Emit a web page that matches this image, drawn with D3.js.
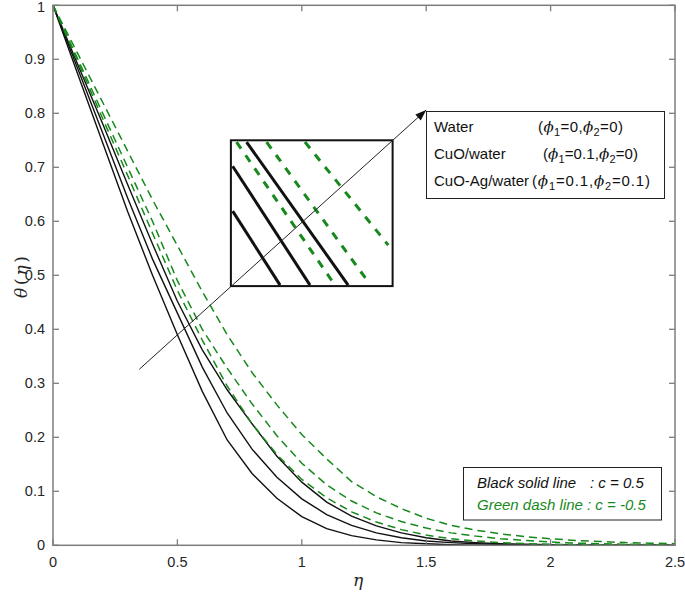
<!DOCTYPE html>
<html><head><meta charset="utf-8">
<script src="https://cdn.jsdelivr.net/npm/d3@7"></script>
<style>body{margin:0;background:#fff} svg{display:block}</style>
</head><body>
<svg id="c" width="685" height="595"></svg>
<script>
// ---------- data ----------
const eta = [0,0.1,0.2,0.3,0.4,0.5,0.6,0.7,0.8,0.9,1.0,1.1,1.2,1.3,1.4,1.5,1.6,1.7,1.8,1.9,2.0,2.1,2.2,2.3,2.4,2.5];
// c = 0.5 (black solid)
const waterPos  = [1,0.872,0.745,0.618,0.500,0.390,0.285,0.195,0.133,0.087,0.053,0.031,0.018,0.010,0.005,0.003,0.001,0,0,0,0,0,0,0,0,0];
const cuoPos    = [1,0.882,0.763,0.643,0.530,0.430,0.330,0.245,0.178,0.126,0.086,0.057,0.037,0.023,0.014,0.008,0.005,0.003,0.002,0.001,0,0,0,0,0,0];
const cuoAgPos  = [1,0.890,0.780,0.668,0.558,0.452,0.362,0.288,0.225,0.165,0.117,0.080,0.054,0.036,0.023,0.014,0.008,0.005,0.003,0.002,0.001,0,0,0,0,0];
// c = -0.5 (green dashed)
const waterNeg  = [1,0.895,0.790,0.685,0.578,0.472,0.380,0.295,0.225,0.168,0.122,0.088,0.062,0.043,0.029,0.019,0.012,0.008,0.005,0.003,0.002,0.001,0.001,0,0,0];
const cuoNeg    = [1,0.900,0.800,0.700,0.600,0.490,0.400,0.328,0.262,0.203,0.152,0.112,0.082,0.060,0.044,0.032,0.023,0.017,0.012,0.009,0.006,0.004,0.003,0.002,0.001,0.001];
const cuoAgNeg  = [1,0.910,0.820,0.730,0.640,0.555,0.470,0.390,0.320,0.260,0.205,0.160,0.118,0.090,0.068,0.050,0.037,0.028,0.021,0.016,0.012,0.009,0.007,0.005,0.004,0.003];

const xTicks = [0,0.5,1,1.5,2,2.5];
const xTickLabels = ["0","0.5","1","1.5","2","2.5"];
const yTicks = [0,0.1,0.2,0.3,0.4,0.5,0.6,0.7,0.8,0.9,1];
const yTickLabels = ["0","0.1","0.2","0.3","0.4","0.5","0.6","0.7","0.8","0.9","1"];

// arrow annotation (data coords): start and tip
const arrowEta   = [0.347, 1.500];
const arrowTheta = [0.326, 0.806];
// inset (magnified) box extent in data coords
const insetEta   = [0.715, 1.365];
const insetTheta = [0.480, 0.750];
// schematic inset segments in inset-normalised units [u0,v0,u1,v1]
const insetBlack = [[0.011,0.514,0.304,0.007],[0.011,0.822,0.489,0.007],[0.097,0.988,0.725,0.007]];
const insetGreen = [[0.035,0.988,0.643,0.007],[0.221,0.988,0.849,0.029],[0.458,0.988,0.973,0.281]];

const legendNames = ["Water","CuO/water","CuO-Ag/water"];
const legendPhi1 = ["0","0.1","0.1"];
const legendPhi2 = ["0","0","0.1"];

// ---------- drawing ----------
const GREEN = "#17891c";
const AX = "#7d7d7d";
const TXT = "#262626";
const FONT = "'Liberation Sans', Arial, Helvetica, sans-serif";
const SERIF = "'DejaVu Serif', serif";
const svg = d3.select("#c");
const L = 53, R = 675, T = 5.3, B = 545.3;
const x = d3.scaleLinear().domain([0,2.5]).range([L,R]);
const y = d3.scaleLinear().domain([0,1]).range([B,T]);

const line = d3.line().x((d,i)=>x(eta[i])).y(d=>y(d));

const g = svg.append("g");
[waterPos,cuoPos,cuoAgPos].forEach(s=>{
  g.append("path").attr("d",line(s)).attr("fill","none").attr("stroke","#111").attr("stroke-width",1.4);
});
[waterNeg,cuoNeg,cuoAgNeg].forEach(s=>{
  g.append("path").attr("d",line(s)).attr("fill","none").attr("stroke",GREEN).attr("stroke-width",1.5).attr("stroke-dasharray","8,5");
});

// axes frame
svg.append("rect").attr("x",L).attr("y",T).attr("width",R-L).attr("height",B-T)
  .attr("fill","none").attr("stroke",AX).attr("stroke-width",1.5);
const tk = 6;
xTicks.forEach((t,i)=>{
  svg.append("line").attr("x1",x(t)).attr("x2",x(t)).attr("y1",B).attr("y2",B-tk).attr("stroke",AX).attr("stroke-width",1.3);
  svg.append("line").attr("x1",x(t)).attr("x2",x(t)).attr("y1",T).attr("y2",T+tk).attr("stroke",AX).attr("stroke-width",1.3);
  svg.append("text").attr("x",x(t)).attr("y",567).attr("text-anchor","middle")
    .attr("font-family",FONT).attr("font-size",14.5).attr("fill",TXT).text(xTickLabels[i]);
});
yTicks.forEach((t,i)=>{
  svg.append("line").attr("x1",L).attr("x2",L+tk).attr("y1",y(t)).attr("y2",y(t)).attr("stroke",AX).attr("stroke-width",1.3);
  svg.append("line").attr("x1",R).attr("x2",R-tk).attr("y1",y(t)).attr("y2",y(t)).attr("stroke",AX).attr("stroke-width",1.3);
  svg.append("text").attr("x",45).attr("y",Math.max(y(t)+5,12)).attr("text-anchor","end")
    .attr("font-family",FONT).attr("font-size",14.5).attr("fill",TXT).text(yTickLabels[i]);
});
// axis labels
svg.append("text").attr("x",358).attr("y",586).attr("text-anchor","middle")
  .attr("font-family",SERIF).attr("font-style","italic").attr("font-size",17).attr("fill",TXT).text("η");
const yl = svg.append("text").attr("transform","translate(27,277) rotate(-90)").attr("text-anchor","middle")
  .attr("font-family",SERIF).attr("font-size",17).attr("fill",TXT)
  .attr("textLength",42).attr("lengthAdjust","spacing");
yl.append("tspan").attr("font-style","italic").text("θ");
yl.append("tspan").text("(");
yl.append("tspan").attr("font-style","italic").text("η");
yl.append("tspan").text(")");

// inset box
const ix0 = x(insetEta[0]), ix1 = x(insetEta[1]), iy0 = y(insetTheta[1]), iy1 = y(insetTheta[0]);
const iu = d3.scaleLinear().domain([0,1]).range([ix0,ix1]);
const iv = d3.scaleLinear().domain([0,1]).range([iy1,iy0]);
svg.append("rect").attr("x",ix0).attr("y",iy0).attr("width",ix1-ix0).attr("height",iy1-iy0)
  .attr("fill","#fff").attr("stroke","#111").attr("stroke-width",2);
insetBlack.forEach(s=>{
  svg.append("line").attr("x1",iu(s[0])).attr("y1",iv(s[1])).attr("x2",iu(s[2])).attr("y2",iv(s[3]))
    .attr("stroke","#111").attr("stroke-width",3);
});
insetGreen.forEach(s=>{
  svg.append("line").attr("x1",iu(s[0])).attr("y1",iv(s[1])).attr("x2",iu(s[2])).attr("y2",iv(s[3]))
    .attr("stroke",GREEN).attr("stroke-width",3).attr("stroke-dasharray","8,8");
});

// arrow
const ax0 = x(arrowEta[0]), ay0 = y(arrowTheta[0]), ax1 = x(arrowEta[1]), ay1 = y(arrowTheta[1]);
svg.append("line").attr("x1",ax0).attr("y1",ay0).attr("x2",ax1).attr("y2",ay1).attr("stroke","#222").attr("stroke-width",1);
const ang = Math.atan2(ay1-ay0, ax1-ax0);
const hl = 11, hw = 4;
const bx = ax1 - hl*Math.cos(ang), by = ay1 - hl*Math.sin(ang);
const headD = `M${ax1},${ay1}L${bx - hw*Math.sin(ang)},${by + hw*Math.cos(ang)}L${bx + hw*Math.sin(ang)},${by - hw*Math.cos(ang)}Z`;

// legend 1
svg.append("rect").attr("x",426.5).attr("y",111.5).attr("width",238).attr("height",87)
  .attr("fill","#fff").attr("stroke","#222").attr("stroke-width",1);
svg.append("path").attr("d",headD).attr("fill","#111");
const rowY = [132, 159, 186];
const phiX = [538, 543, 532];
const phiW = [85, 95, 118];
legendNames.forEach((n,i)=>{
  svg.append("text").attr("x",434).attr("y",rowY[i]).attr("font-family",FONT).attr("font-size",15).attr("fill","#111").text(n);
  const t = svg.append("text").attr("x",phiX[i]).attr("y",rowY[i]).attr("font-family",FONT).attr("font-size",15).attr("fill","#111")
    .attr("textLength",phiW[i]).attr("lengthAdjust","spacing");
  t.append("tspan").text("(");
  t.append("tspan").attr("font-style","italic").attr("font-family",SERIF).text("ϕ");
  t.append("tspan").attr("font-size",11).attr("dy",4).text("1");
  t.append("tspan").attr("dy",-4).text("=" + legendPhi1[i] + ",");
  t.append("tspan").attr("font-style","italic").attr("font-family",SERIF).text("ϕ");
  t.append("tspan").attr("font-size",11).attr("dy",4).text("2");
  t.append("tspan").attr("dy",-4).text("=" + legendPhi2[i] + ")");
});

// legend 2
svg.append("rect").attr("x",463.5).attr("y",467.5).attr("width",198).attr("height",52.5)
  .attr("fill","#fff").attr("stroke","#222").attr("stroke-width",1);
svg.append("text").attr("x",477).attr("y",488).attr("font-family",FONT).attr("font-style","italic").attr("font-size",15).attr("fill","#111").text("Black solid line");
svg.append("text").attr("x",590).attr("y",488).attr("font-family",FONT).attr("font-style","italic").attr("font-size",15).attr("fill","#111").text(": c = 0.5");
svg.append("text").attr("x",477).attr("y",510).attr("font-family",FONT).attr("font-style","italic").attr("font-size",15).attr("fill",GREEN).text("Green dash line");
svg.append("text").attr("x",587).attr("y",510).attr("font-family",FONT).attr("font-style","italic").attr("font-size",15).attr("fill",GREEN).text(": c = -0.5");
</script>
</body></html>
